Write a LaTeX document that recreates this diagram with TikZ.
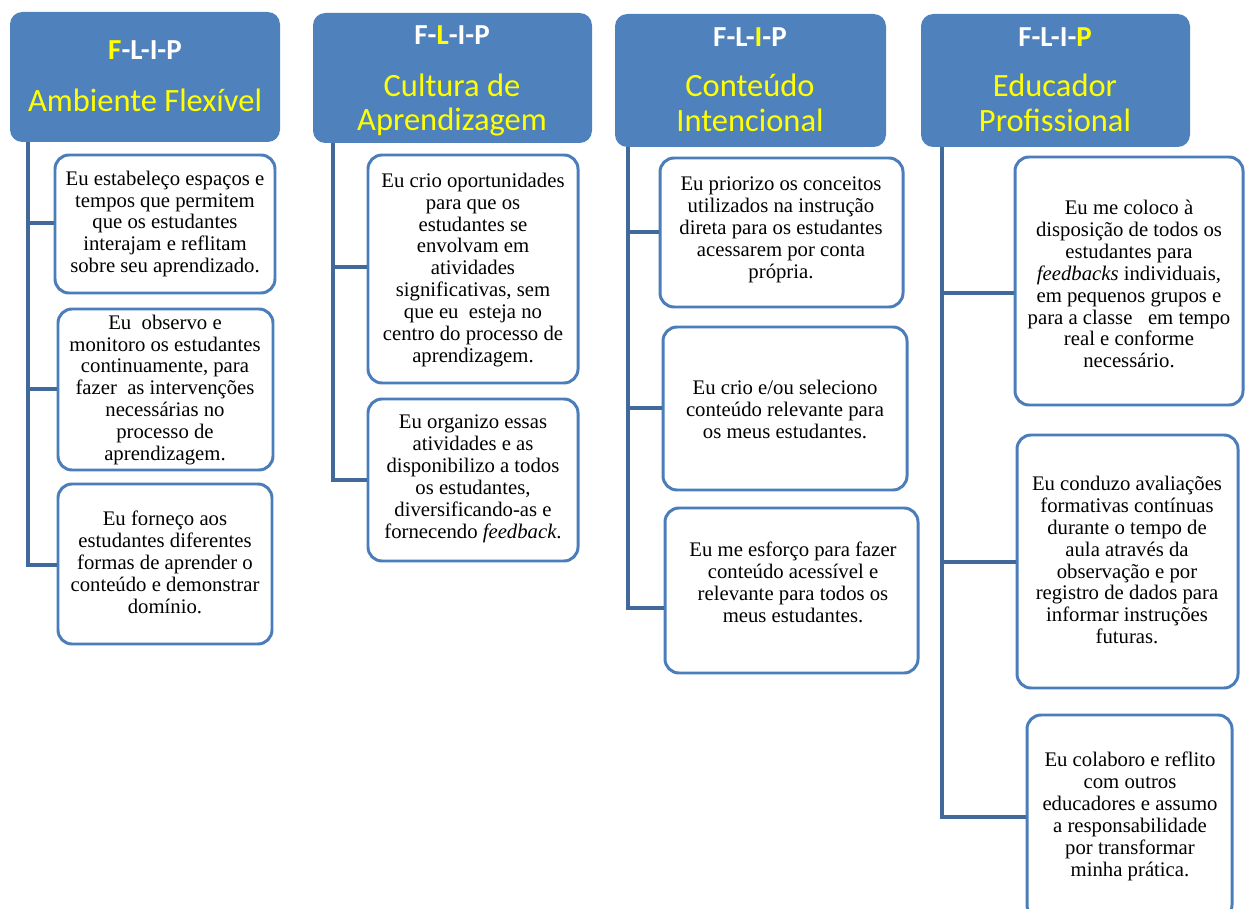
\documentclass[tikz,border=0pt]{standalone}
\usepackage{fontspec}
\setmainfont{Liberation Serif}
\newfontfamily\hdrfont{Carlito}
\definecolor{headblue}{HTML}{4F81BD}
\definecolor{cardblue}{HTML}{4A7DBA}
\definecolor{trunkblue}{HTML}{41699A}
\definecolor{titleyellow}{HTML}{FFFF00}

% rounded box given by its corners (x1,y1) (x2,y2) in pixel units
\newcommand\cardbox[6][card]{%
  \node[#1, minimum width={(#5-#3)*0.02cm}, minimum height={(#6-#4)*0.02cm}]
    (#2) at ({(#3+#5)/2},{(#4+#6)/2}) {};}

\begin{document}
\begin{tikzpicture}[x=0.02cm, y=-0.02cm,
  head/.style={fill=headblue, draw=none, rounded corners=7pt, inner sep=0pt},
  card/.style={draw=cardblue, line width=1.7pt, fill=white, rounded corners=8pt, inner sep=0pt},
  cardtext/.style={align=center, inner sep=0pt, font=\fontsize{11.8}{12.5}\selectfont},
  flip/.style={anchor=base, inner sep=0pt, text=white, font=\hdrfont\bfseries\fontsize{16.5}{18}\selectfont},
  title/.style={anchor=base, inner sep=0pt, text=titleyellow, font=\hdrfont\fontsize{18.5}{19.3}\selectfont},
  trunk/.style={draw=trunkblue, line width=2pt}]
\useasboundingbox (0,0) rectangle (1251,909);
\clip (0,0) rectangle (1251,909);

% ---------- headers ----------
\cardbox[head]{h1}{10}{12}{280}{142}
\cardbox[head]{h2}{313}{13}{592}{143}
\cardbox[head]{h3}{615}{14}{886}{147}
\cardbox[head]{h4}{921}{14}{1190}{147}

\node[flip] (f1) at (145,60) {\textcolor{titleyellow}{F}-L-I-P};
\node[title] (n1) at (145,112) {Ambiente Flexível};

\node[flip] (f2) at (452,45) {F-\textcolor{titleyellow}{L}-I-P};
\node[title] (n2a) at (452,97) {Cultura de};
\node[title] (n2b) at (452,131) {Aprendizagem};

\node[flip] (f3) at (750,47) {F-L-\textcolor{titleyellow}{I}-P};
\node[title] (n3a) at (750,97) {Conteúdo};
\node[title] (n3b) at (750,132) {Intencional};

\node[flip] (f4) at (1055,47) {F-L-I-\textcolor{titleyellow}{P}};
\node[title] (n4a) at (1055,97) {Educador};
\node[title] (n4b) at (1055,132) {Profissional};

% ---------- cards ----------
\cardbox{b11}{55}{155}{275}{293}
\cardbox{b12}{58}{309}{273}{470}
\cardbox{b13}{58}{484}{272}{644}

\cardbox{b21}{368}{155}{578}{383}
\cardbox{b22}{368}{399}{578}{561}

\cardbox{b31}{660}{158}{903}{307}
\cardbox{b32}{663}{327}{907}{490}
\cardbox{b33}{665}{508}{918}{673}

\cardbox{b41}{1015}{157}{1243}{405}
\cardbox{b42}{1017}{435}{1238}{688}
\cardbox{b43}{1027}{715}{1232}{919}

% ---------- card texts ----------
\node[cardtext] (t11) at (165,224) {Eu estabeleço espaços e\\tempos que permitem\\que os estudantes\\interajam e reflitam\\sobre seu aprendizado.};
\node[cardtext] (t12) at (165,390) {Eu\ \ observo e\\monitoro os estudantes\\continuamente, para\\fazer\ \ as intervenções\\necessárias no\\processo de\\aprendizagem.};
\node[cardtext] (t13) at (165,562) {Eu forneço aos\\estudantes diferentes\\formas de aprender o\\conteúdo e demonstrar\\domínio.};

\node[cardtext] (t21) at (473,270) {Eu crio oportunidades\\para que os\\estudantes se\\envolvam em\\atividades\\significativas, sem\\que eu\ \ esteja no\\centro do processo de\\aprendizagem.};
\node[cardtext] (t22) at (473,479) {Eu organizo essas\\atividades e as\\disponibilizo a todos\\os estudantes,\\diversificando-as e\\fornecendo \textit{feedback}.};

\node[cardtext] (t31) at (781,230) {Eu priorizo os conceitos\\utilizados na instrução\\direta para os estudantes\\acessarem por conta\\própria.};
\node[cardtext] (t32) at (785,409) {Eu crio e/ou seleciono\\conteúdo relevante para\\os meus estudantes.};
\node[cardtext] (t33) at (793,582) {Eu me esforço para fazer\\conteúdo acessível e\\relevante para todos os\\meus estudantes.};

\node[cardtext] (t41) at (1129,284) {Eu me coloco à\\disposição de todos os\\estudantes para\\\textit{feedbacks} individuais,\\em pequenos grupos e\\para a classe\ \ \ em tempo\\real e conforme\\necessário.};
\node[cardtext] (t42) at (1127,560) {Eu conduzo avaliações\\formativas contínuas\\durante o tempo de\\aula através da\\observação e por\\registro de dados para\\informar instruções\\futuras.};
\node[cardtext] (t43) at (1130,816) {Eu colaboro e reflito\\com outros\\educadores e assumo\\a responsabilidade\\por transformar\\minha prática.};

% ---------- trunks and branches ----------
\coordinate (r1) at (28,142);
\coordinate (j11) at (28,223);
\coordinate (j12) at (28,389);
\coordinate (j13) at (28,565);
\draw[trunk] (r1) -- (j13) -- (j13 -| b13.west);
\draw[trunk] (j11) -- (j11 -| b11.west);
\draw[trunk] (j12) -- (j12 -| b12.west);

\coordinate (r2) at (333,143);
\coordinate (j21) at (333,267);
\coordinate (j22) at (333,480);
\draw[trunk] (r2) -- (j22) -- (j22 -| b22.west);
\draw[trunk] (j21) -- (j21 -| b21.west);

\coordinate (r3) at (628,147);
\coordinate (j31) at (628,232);
\coordinate (j32) at (628,408);
\coordinate (j33) at (628,608);
\draw[trunk] (r3) -- (j33) -- (j33 -| b33.west);
\draw[trunk] (j31) -- (j31 -| b31.west);
\draw[trunk] (j32) -- (j32 -| b32.west);

\coordinate (r4) at (942,147);
\coordinate (j41) at (942,293);
\coordinate (j42) at (942,562);
\coordinate (j43) at (942,817);
\draw[trunk] (r4) -- (j43) -- (j43 -| b43.west);
\draw[trunk] (j41) -- (j41 -| b41.west);
\draw[trunk] (j42) -- (j42 -| b42.west);
\end{tikzpicture}
\end{document}
